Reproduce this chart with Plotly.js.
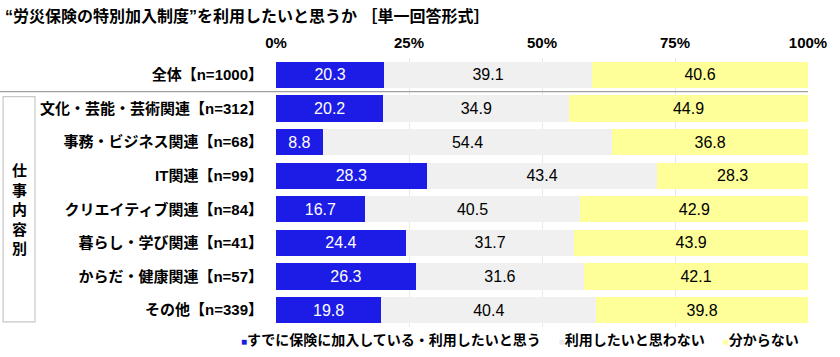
<!DOCTYPE html>
<html><head><meta charset="utf-8">
<script src="https://cdn.plot.ly/plotly-3.0.1.min.js"></script>
<style>html,body{margin:0;padding:0;background:#fff}#chart{width:840px;height:357px}</style>
</head><body><div id="chart"></div>
<script>
const categories = ["全体【n=1000】","文化・芸能・芸術関連【n=312】","事務・ビジネス関連【n=68】","IT関連【n=99】","クリエイティブ関連【n=84】","暮らし・学び関連【n=41】","からだ・健康関連【n=57】","その他【n=339】"];
const seriesNames = ["すでに保険に加入している・利用したいと思う","利用したいと思わない","分からない"];
const useIt = [20.3,20.2,8.8,28.3,16.7,24.4,26.3,19.8];
const notUse = [39.1,34.9,54.4,43.4,40.5,31.7,31.6,40.4];
const dontKnow = [40.6,44.9,36.8,28.3,42.9,43.9,42.1,39.8];
const tickVals = [0,25,50,75,100];
const tickText = ["0%","25%","50%","75%","100%"];
const groupLabel = "仕事内容別";
const titleText = "“労災保険の特別加入制度”を利用したいと思うか ［単一回答形式］";

const colors = ["#1c1ce6","#f0f0f0","#ffff99"];
const textColors = ["#ffffff","#000000","#000000"];
const FONT = "Liberation Sans, Arial, 'Noto Sans CJK JP', sans-serif";
const vals = [useIt, notUse, dontKnow];

const traces = vals.map((v,i)=>({
  type:'bar', orientation:'h', name:seriesNames[i],
  y:categories, x:v,
  marker:{color:colors[i], line:{width:0}},
  text:v.map(d=>d.toFixed(1)), textposition:'inside', insidetextanchor:'middle',
  textfont:{family:FONT, size:16, color:textColors[i]},
  constraintext:'none', hoverinfo:'skip', showlegend:false
}));

const legendText = seriesNames.map((n,i)=>
  `<span style="color:${colors[i]==='#f0f0f0'?'#e8e8e8':colors[i]};font-size:10px">■</span>${n}`).join('　 ');

const layout = {
  width:840, height:357,
  margin:{l:276, r:32, t:58, b:30},
  paper_bgcolor:'#fff', plot_bgcolor:'#fff',
  barmode:'stack', bargap:0.22,
  font:{family:FONT, color:'#000'},
  title:{text:titleText, x:0.006, xanchor:'left', xref:'container', y:0.955, yref:'container', yanchor:'middle',
    font:{family:FONT, size:16, weight:'bold', color:'#000'}},
  xaxis:{range:[0,100], side:'top', tickvals:tickVals, ticktext:tickText, showgrid:true, gridcolor:'#e8e8e8',
    zeroline:false, showline:false, ticks:'', ticklabelstandoff:6, tickfont:{family:FONT, size:15, weight:'bold'}, fixedrange:true, automargin:false},
  yaxis:{categoryorder:'array', categoryarray:categories, autorange:'reversed', showgrid:false, zeroline:false,
    ticks:'', ticklabelstandoff:12, tickfont:{family:FONT, size:15, weight:'bold'}, automargin:false},
  shapes:[
    {type:'line', xref:'paper', yref:'y', x0:-0.519, x1:1.0, y0:0.5, y1:0.5, line:{color:'#a0a0a0', width:1.2}},
    {type:'rect', xref:'paper', yref:'y', x0:-0.513, x1:-0.453, y0:0.65, y1:7.35, line:{color:'#c8c8c8', width:1.2}, fillcolor:'rgba(0,0,0,0)'}
  ],
  annotations:[
    {xref:'paper', yref:'y', x:-0.483, y:4.0, text:groupLabel.split('').join('<br>'), showarrow:false,
     font:{family:FONT, size:15, weight:'bold'}, xanchor:'center', yanchor:'middle'},
    {xref:'paper', yref:'paper', x:0.459, y:-0.05, text:legendText, showarrow:false, xanchor:'center', yanchor:'middle',
     font:{family:FONT, size:14, weight:'bold'}}
  ]
};
Plotly.newPlot('chart', traces, layout, {displayModeBar:false, staticPlot:true});
</script></body></html>
